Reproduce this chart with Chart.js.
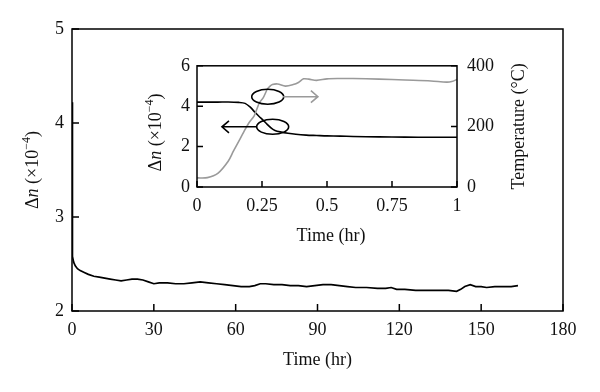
<!DOCTYPE html>
<html>
<head>
<meta charset="utf-8">
<script src="https://cdn.jsdelivr.net/npm/chart.js@4.4.0/dist/chart.umd.min.js"></script>
<style>
html, body { margin: 0; padding: 0; background: #fff; }
#wrap { position: relative; width: 600px; height: 392px; }
#mainChart { position: absolute; left: 0; top: 0; }
#insetChart { position: absolute; left: 140px; top: 45px; }
</style>
</head>
<body>
<div id="wrap">
	<canvas id="mainChart" width="600" height="392"></canvas>
	<canvas id="insetChart" width="400" height="205"></canvas>
</div>
<script>

// MAIN CURVE: long term, time in hours
const mainTime = [0, 0.05, 0.15, 0.3, 0.6, 1.2, 2, 3, 4.5, 6, 8, 10, 12, 14, 16, 18, 20, 22, 24, 26, 28, 30,
	32, 35, 38, 41, 44, 47, 50, 53, 56, 59, 62, 65, 67, 69, 71, 74, 77, 80, 83, 86, 89, 92, 95, 98,
	101, 104, 108, 112, 115, 117, 119, 122, 126, 130, 134, 138, 141, 142.5, 144, 146, 148, 150, 152,
	155, 158, 161, 163.5];
const mainDn = [4.22, 3.6, 2.75, 2.58, 2.52, 2.48, 2.45, 2.43, 2.41, 2.39, 2.37, 2.36, 2.35, 2.34, 2.33, 2.32,
	2.33, 2.34, 2.34, 2.33, 2.31, 2.29, 2.30, 2.30, 2.29, 2.29, 2.30, 2.31, 2.30, 2.29, 2.28, 2.27,
	2.26, 2.26, 2.27, 2.29, 2.29, 2.28, 2.28, 2.27, 2.27, 2.26, 2.27, 2.28, 2.28, 2.27, 2.26, 2.25,
	2.25, 2.24, 2.24, 2.25, 2.23, 2.23, 2.22, 2.22, 2.22, 2.22, 2.21, 2.23, 2.26, 2.28, 2.26, 2.26,
	2.25, 2.26, 2.26, 2.26, 2.27];

// INSET: first hour
const insetTimeDn = [0, 0.04, 0.08, 0.12, 0.16, 0.185, 0.205, 0.223, 0.24, 0.255, 0.27, 0.287, 0.30, 0.32,
	0.35, 0.38, 0.42, 0.46, 0.50, 0.55, 0.60, 0.70, 0.80, 0.90, 1.0];
const insetDn = [4.2, 4.2, 4.2, 4.21, 4.19, 4.14, 3.95, 3.70, 3.48, 3.30, 3.10, 2.90, 2.80, 2.73,
	2.66, 2.61, 2.57, 2.55, 2.53, 2.52, 2.50, 2.48, 2.47, 2.46, 2.46];

const insetTimeTemp = [0, 0.04, 0.08, 0.12, 0.14, 0.16, 0.18, 0.20, 0.22, 0.24, 0.255, 0.27, 0.28, 0.29,
	0.31, 0.34, 0.37, 0.39, 0.41, 0.43, 0.46, 0.50, 0.55, 0.60, 0.70, 0.80, 0.90, 0.96, 0.98, 1.0];
const insetTemp = [30, 31, 45, 85, 118, 150, 182, 212, 235, 278, 295, 322, 332, 338,
	340, 333, 338, 345, 357, 356, 352, 357, 358, 358, 356, 353, 350, 346, 348, 355];

const xTicksMain = [0, 30, 60, 90, 120, 150, 180];
const yTicksMain = [2, 3, 4, 5];
const xTicksInset = [0, 0.25, 0.5, 0.75, 1];
const yTicksDn = [0, 2, 4, 6];
const yTicksTemp = [0, 200, 400];

// oval + arrow notes of the inset, in data units
const insetOvals = [
	{ x: 0.272, y: 298, scale: "yT" },
	{ x: 0.291, y: 2.98, scale: "yDn" },
];
const insetArrows = [
	{ from: 0.331, to: 0.465, y: 298, scale: "yT", color: "#9a9a9a" },
	{ from: 0.23, to: 0.096, y: 2.98, scale: "yDn", color: "#000" },
];


const FONT = "'Liberation Serif', 'Times New Roman', serif";
const TEXT = "#111";
const SIZE = 18;

const dnTitle = [
	{ text: "\u0394" },
	{ text: "n", italic: true },
	{ text: " (\u00d710" },
	{ text: "\u22124", sup: true },
	{ text: ")" },
];


function drawRich(ctx, parts, cx, cy, rot) {
	const fontFor = (p) => (p.italic ? "italic " : "") + (p.sup ? Math.round(SIZE * 0.68) : SIZE) + "px " + FONT;
	ctx.save();
	ctx.translate(cx, cy);
	ctx.rotate(rot);
	let total = 0;
	const widths = parts.map((p) => {
		ctx.font = fontFor(p);
		const w = ctx.measureText(p.text).width;
		total += w;
		return w;
	});
	let x = -total / 2;
	ctx.textBaseline = "alphabetic";
	ctx.textAlign = "left";
	ctx.fillStyle = TEXT;
	parts.forEach((p, i) => {
		ctx.font = fontFor(p);
		ctx.fillText(p.text, x, SIZE * 0.33 - (p.sup ? SIZE * 0.42 : 0));
		x += widths[i];
	});
	ctx.restore();
}


// box round the plot area, ticks pointing inward, and axis titles
function makeFrame(tickLen, titles) {
	return {
		id: "frame",
		afterDraw(chart) {
			const { ctx, chartArea: a } = chart;
			ctx.save();
			ctx.strokeStyle = "#000";
			ctx.lineWidth = 1.5;
			ctx.strokeRect(a.left, a.top, a.right - a.left, a.bottom - a.top);

			for (const id in chart.scales) {
				const s = chart.scales[id];
				ctx.beginPath();
				for (const t of s.ticks) {
					const p = s.getPixelForValue(t.value);
					if (s.axis === "x") {
						ctx.moveTo(p, a.bottom);
						ctx.lineTo(p, a.bottom - tickLen);
					} else if (s.position === "left") {
						ctx.moveTo(a.left, p);
						ctx.lineTo(a.left + tickLen, p);
					} else {
						ctx.moveTo(a.right, p);
						ctx.lineTo(a.right - tickLen, p);
					}
				}
				ctx.stroke();
			}
			ctx.restore();

			const cx = (a.left + a.right) / 2;
			const cy = (a.top + a.bottom) / 2;
			for (const t of titles) {
				let x, y, rot = 0;
				if (t.side === "bottom") { x = cx + (t.shift || 0); y = a.bottom + t.offset; }
				else if (t.side === "left") { x = a.left - t.offset; y = cy + (t.shift || 0); rot = -Math.PI / 2; }
				else { x = a.right + t.offset; y = cy + (t.shift || 0); rot = -Math.PI / 2; }
				drawRich(ctx, t.parts, x, y, rot);
			}
		},
	};
}


function makeNotes(ovals, arrows) {
	return {
		id: "notes",
		afterDatasetsDraw(chart) {
			const { ctx } = chart;
			const xs = chart.scales.x;
			ctx.save();
			ctx.lineWidth = 1.6;
			ctx.strokeStyle = "#000";
			for (const o of ovals) {
				ctx.beginPath();
				ctx.ellipse(xs.getPixelForValue(o.x), chart.scales[o.scale].getPixelForValue(o.y), 16, 7.5, 0, 0, Math.PI * 2);
				ctx.stroke();
			}
			for (const ar of arrows) {
				const y = chart.scales[ar.scale].getPixelForValue(ar.y);
				const x0 = xs.getPixelForValue(ar.from);
				const x1 = xs.getPixelForValue(ar.to);
				const dir = x1 > x0 ? 1 : -1;
				ctx.strokeStyle = ar.color;
				ctx.beginPath();
				ctx.moveTo(x0, y);
				ctx.lineTo(x1, y);
				ctx.moveTo(x1 - dir * 7, y - 6);
				ctx.lineTo(x1, y);
				ctx.lineTo(x1 - dir * 7, y + 6);
				ctx.stroke();
			}
			ctx.restore();
		},
	};
}


function tickOpts(padding) {
	return {
		padding: padding,
		color: TEXT,
		font: { family: FONT, size: SIZE },
		autoSkip: false,
		maxRotation: 0,
		callback: (v) => String(v),
	};
}

function fixedTicks(list) {
	return function (scale) {
		scale.ticks = list.map((v) => ({ value: v }));
	};
}

const noGrid = { display: false, drawTicks: false };


new Chart(document.getElementById("mainChart"), {
	type: "scatter",
	plugins: [makeFrame(7, [
		{ side: "left", offset: 40, parts: dnTitle },
		{ side: "bottom", offset: 48, parts: [{ text: "Time (hr)" }] },
	])],
	data: {
		datasets: [{
			data: mainTime.map((t, i) => ({ x: t, y: mainDn[i] })),
			showLine: true,
			borderColor: "#000",
			borderWidth: 1.7,
			pointRadius: 0,
			tension: 0,
		}],
	},
	options: {
		responsive: false,
		animation: false,
		layout: { padding: { left: 0, right: 37, top: 29, bottom: 0 } },
		plugins: {
			legend: { display: false },
			tooltip: { enabled: false },
		},
		scales: {
			x: {
				type: "linear", min: 0, max: 180,
				afterBuildTicks: fixedTicks(xTicksMain),
				ticks: tickOpts(8),
				grid: noGrid,
				border: { display: false },
				afterFit: (s) => { s.height = 81; },
			},
			y: {
				min: 2, max: 5,
				afterBuildTicks: fixedTicks(yTicksMain),
				ticks: tickOpts(8),
				grid: noGrid,
				border: { display: false },
				afterFit: (s) => { s.width = 72; },
			},
		},
	},
});


new Chart(document.getElementById("insetChart"), {
	type: "scatter",
	plugins: [
		makeFrame(6, [
			{ side: "left", offset: 42, shift: 6, parts: dnTitle },
			{ side: "right", offset: 61, parts: [{ text: "Temperature (\u00b0C)" }] },
			{ side: "bottom", offset: 48, shift: 4, parts: [{ text: "Time (hr)" }] },
		]),
		makeNotes(insetOvals, insetArrows),
	],
	data: {
		datasets: [
			{
				data: insetTimeTemp.map((t, i) => ({ x: t, y: insetTemp[i] })),
				yAxisID: "yT",
				showLine: true,
				borderColor: "#9a9a9a",
				borderWidth: 1.6,
				pointRadius: 0,
				tension: 0.3,
			},
			{
				data: insetTimeDn.map((t, i) => ({ x: t, y: insetDn[i] })),
				yAxisID: "yDn",
				showLine: true,
				borderColor: "#000",
				borderWidth: 1.6,
				pointRadius: 0,
				tension: 0.3,
			},
		],
	},
	options: {
		responsive: false,
		animation: false,
		layout: { padding: { left: 0, right: 0, top: 17, bottom: 0 } },
		plugins: {
			legend: { display: false },
			tooltip: { enabled: false },
		},
		scales: {
			x: {
				type: "linear", min: 0, max: 1,
				afterBuildTicks: fixedTicks(xTicksInset),
				ticks: tickOpts(8),
				grid: noGrid,
				border: { display: false },
				afterFit: (s) => { s.height = 63; },
			},
			yDn: {
				position: "left",
				min: 0, max: 6,
				afterBuildTicks: fixedTicks(yTicksDn),
				ticks: tickOpts(7),
				grid: noGrid,
				border: { display: false },
				afterFit: (s) => { s.width = 57; },
			},
			yT: {
				position: "right",
				min: 0, max: 400,
				afterBuildTicks: fixedTicks(yTicksTemp),
				ticks: tickOpts(10),
				grid: noGrid,
				border: { display: false },
				afterFit: (s) => { s.width = 83; },
			},
		},
	},
});

</script>
</body>
</html>
